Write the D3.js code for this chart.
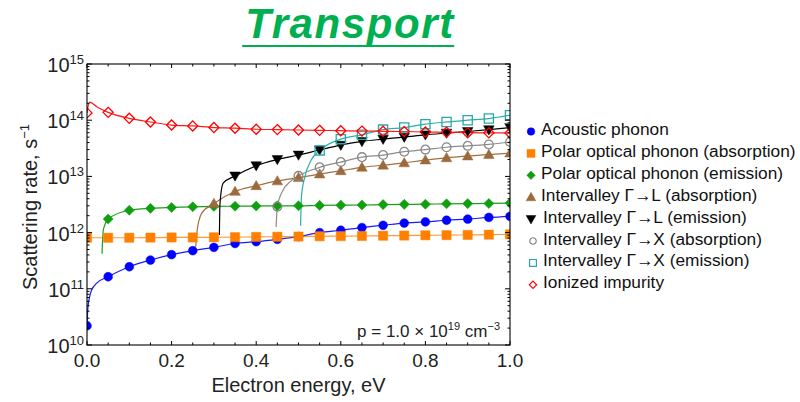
<!DOCTYPE html>
<html>
<head>
<meta charset="utf-8">
<script src="https://cdn.jsdelivr.net/npm/d3@7"></script>
<style>
  body { margin: 0; background: #fff; }
  svg { display: block; }
  text { font-family: "Liberation Sans", Arial, sans-serif; }
</style>
</head>
<body>
<svg id="chart" width="800" height="402"></svg>
<script>
// Electron energies (eV) at which the scattering rates are sampled
const energies = [0, 0.05, 0.1, 0.15, 0.2, 0.25, 0.3, 0.35, 0.4, 0.45, 0.5,
                  0.55, 0.6, 0.65, 0.7, 0.75, 0.8, 0.85, 0.9, 0.95, 1.0];

// Scattering rates, s^-1 (null = below the process threshold)
const acoustic = [2.2e10, 1.64e11, 2.47e11, 3.25e11, 4.05e11, 4.76e11, 5.47e11, 6.4e11, 6.9e11, 7.6e11, 8.5e11,
                  1.0e12, 1.1e12, 1.23e12, 1.35e12, 1.48e12, 1.55e12, 1.66e12, 1.74e12, 1.86e12, 1.95e12];
const polarAbs = [8.1e11, 8.1e11, 8.1e11, 8.15e11, 8.2e11, 8.2e11, 8.25e11, 8.3e11, 8.4e11, 8.45e11, 8.5e11,
                  8.6e11, 8.65e11, 8.7e11, 8.8e11, 8.85e11, 8.95e11, 9.0e11, 9.1e11, 9.2e11, 9.3e11];
const polarEm = [null, 1.74e12, 2.5e12, 2.7e12, 2.8e12, 2.88e12, 2.93e12, 2.95e12, 2.97e12, 2.99e12, 3.0e12,
                 3.05e12, 3.08e12, 3.1e12, 3.15e12, 3.18e12, 3.2e12, 3.25e12, 3.28e12, 3.3e12, 3.35e12];
const gammaLAbs = [null, null, null, null, null, null, 3.3e12, 5.4e12, 6.8e12, 8.3e12, 9.5e12,
                   1.1e13, 1.26e13, 1.45e13, 1.58e13, 1.74e13, 1.95e13, 2.14e13, 2.3e13, 2.45e13, 2.6e13];
const gammaLEm = [null, null, null, null, null, null, null, 1.02e13, 1.55e13, 2.0e13, 2.4e13,
                  2.95e13, 3.6e13, 4.2e13, 4.6e13, 5.0e13, 5.5e13, 5.9e13, 6.3e13, 6.8e13, 7.4e13];
const gammaXAbs = [null, null, null, null, null, null, null, null, null, 2.9e12, 1.02e13,
                   1.45e13, 1.8e13, 2.2e13, 2.4e13, 2.75e13, 3.0e13, 3.3e13, 3.5e13, 3.7e13, 4.1e13];
const gammaXEm = [null, null, null, null, null, null, null, null, null, null, null,
                  2.9e13, 4.6e13, 5.5e13, 6.8e13, 7.4e13, 8.5e13, 9.3e13, 1.0e14, 1.07e14, 1.23e14];
const impurity = [1.35e14, 1.38e14, 1.08e14, 9.3e13, 8.2e13, 7.9e13, 7.4e13, 7.2e13, 6.9e13, 6.8e13, 6.7e13,
                  6.6e13, 6.5e13, 6.4e13, 6.35e13, 6.3e13, 6.15e13, 6.1e13, 6.0e13, 5.95e13, 5.9e13];

// Extra points of the continuous curves between samples (onsets and peaks), [energy, rate]
const acousticOnset  = [[0.0024, 4.8e10], [0.011, 9.5e10], [0.023, 1.26e11]];
const polarEmOnset   = [[0.0355, 4.2e11], [0.0385, 1.1e12], [0.043, 1.42e12]];
const gammaLAbsOnset = [[0.257, 5.6e11], [0.2606, 1.12e12], [0.271, 2.2e12]];
const gammaLEmOnset  = [[0.313, 9.1e11], [0.3144, 3.3e12], [0.322, 7.6e12]];
const gammaXAbsOnset = [[0.447, 1.26e12], [0.464, 5.8e12], [0.48, 8.0e12]];
const gammaXEmOnset  = [[0.505, 1.32e12], [0.507, 4.4e12], [0.515, 9.8e12], [0.53, 1.95e13]];
const impurityPeak   = [[0.006, 2.1e14], [0.025, 1.7e14]];

const seriesLabels = [
  "Acoustic phonon",
  "Polar optical phonon (absorption)",
  "Polar optical phonon (emission)",
  "Intervalley \u0393\u2192L (absorption)",
  "Intervalley \u0393\u2192L (emission)",
  "Intervalley \u0393\u2192X (absorption)",
  "Intervalley \u0393\u2192X (emission)",
  "Ionized impurity"
];

const xTickValues = [0, 0.2, 0.4, 0.6, 0.8, 1.0];
const xTickLabels = ["0.0", "0.2", "0.4", "0.6", "0.8", "1.0"];
const yDecades = [10, 11, 12, 13, 14, 15];

const titleText = "Transport";
const xTitle = "Electron energy, eV";
const yTitle = "Scattering rate, s";

// ---- styling for each series ----
const series = [
  { label: seriesLabels[0], values: acoustic,  extra: acousticOnset,  color: "#0000ff", line: "#1a1aff", shape: "circle",  filled: true },
  { label: seriesLabels[1], values: polarAbs,  extra: [],             color: "#ff8000", line: "#ff9a3a", shape: "square",  filled: true },
  { label: seriesLabels[2], values: polarEm,   extra: polarEmOnset,   color: "#0f9f0f", line: "#1a9f1a", shape: "diamond", filled: true },
  { label: seriesLabels[3], values: gammaLAbs, extra: gammaLAbsOnset, color: "#9c6a3c", line: "#a0703f", shape: "triUp",   filled: true },
  { label: seriesLabels[4], values: gammaLEm,  extra: gammaLEmOnset,  color: "#000000", line: "#000000", shape: "triDown", filled: true },
  { label: seriesLabels[5], values: gammaXAbs, extra: gammaXAbsOnset, color: "#888888", line: "#8c8c8c", shape: "circle",  filled: false },
  { label: seriesLabels[6], values: gammaXEm,  extra: gammaXEmOnset,  color: "#2aa8a8", line: "#2aaeae", shape: "square",  filled: false },
  { label: seriesLabels[7], values: impurity,  extra: impurityPeak,   color: "#ff0000", line: "#ff1a1a", shape: "diamond", filled: false }
];

const svg = d3.select("#chart");
const plot = { left: 87, right: 510, top: 64, bottom: 345 };

const x = d3.scaleLinear().domain([0, 1]).range([plot.left, plot.right]);
const y = d3.scaleLog().domain([1e10, 1e15]).range([plot.bottom, plot.top]);

// marker outlines, centred on the origin
function markerPath(shape, s) {
  switch (shape) {
    case "circle":
      return `M${s},0A${s},${s} 0 1,1 ${-s},0A${s},${s} 0 1,1 ${s},0Z`;
    case "square":
      return `M${-s},${-s}H${s}V${s}H${-s}Z`;
    case "diamond":
      return `M0,${-s * 1.12}L${s * 1.12},0L0,${s * 1.12}L${-s * 1.12},0Z`;
    case "triUp":
      return `M0,${-s * 1.15}L${s * 1.15},${s * 0.85}L${-s * 1.15},${s * 0.85}Z`;
    case "triDown":
      return `M0,${s * 1.15}L${s * 1.15},${-s * 0.85}L${-s * 1.15},${-s * 0.85}Z`;
  }
}
const markerSize = { circle: 4.4, square: 4.6, diamond: 4.5, triUp: 4.6, triDown: 4.6 };

// ---- title ----
const title = svg.append("text")
  .attr("x", 350).attr("y", 38)
  .attr("text-anchor", "middle")
  .attr("font-size", 42).attr("font-weight", "bold").attr("font-style", "italic")
  .attr("letter-spacing", 1.6)
  .attr("fill", "#00b050")
  .text(titleText);
const tb = title.node().getBBox();
svg.append("line")
  .attr("x1", tb.x - 3).attr("x2", tb.x + tb.width - 1)
  .attr("y1", 46).attr("y2", 46)
  .attr("stroke", "#00b050").attr("stroke-width", 2.2);

// ---- plot contents (clipped to the frame) ----
svg.append("clipPath").attr("id", "plotClip")
  .append("rect")
  .attr("x", plot.left).attr("y", plot.top)
  .attr("width", plot.right - plot.left).attr("height", plot.bottom - plot.top);

const content = svg.append("g").attr("clip-path", "url(#plotClip)");

const lineGen = d3.line()
  .x(d => x(d[0])).y(d => y(d[1]))
  .curve(d3.curveMonotoneX);

series.forEach(s => {
  const pts = energies.map((e, i) => [e, s.values[i]]).filter(d => d[1] != null)
    .concat(s.extra)
    .sort((a, b) => a[0] - b[0]);
  content.append("path")
    .attr("d", lineGen(pts))
    .attr("fill", "none")
    .attr("stroke", s.line)
    .attr("stroke-width", 1.2);
});

series.forEach(s => {
  const pts = energies.map((e, i) => [e, s.values[i]]).filter(d => d[1] != null);
  content.selectAll(null).data(pts).enter().append("path")
    .attr("transform", d => `translate(${x(d[0])},${y(d[1])})`)
    .attr("d", markerPath(s.shape, markerSize[s.shape]))
    .attr("fill", s.filled ? s.color : "#fff")
    .attr("fill-opacity", s.filled ? 1 : 0)
    .attr("stroke", s.color)
    .attr("stroke-width", s.filled ? 0.5 : 1.3);
});

// ---- frame and ticks ----
const axes = svg.append("g").attr("stroke", "#000").attr("fill", "none");
axes.append("rect")
  .attr("x", plot.left).attr("y", plot.top)
  .attr("width", plot.right - plot.left).attr("height", plot.bottom - plot.top)
  .attr("stroke-width", 1.1);

d3.range(0, 1.0001, 0.05).forEach((v, i) => {
  const len = (i % 4 === 0) ? 4 : 2.5;
  const px = x(v);
  axes.append("line").attr("x1", px).attr("x2", px).attr("y1", plot.bottom).attr("y2", plot.bottom - len);
  axes.append("line").attr("x1", px).attr("x2", px).attr("y1", plot.top).attr("y2", plot.top + len);
});

yDecades.forEach(d => {
  const py = y(Math.pow(10, d));
  axes.append("line").attr("x1", plot.left).attr("x2", plot.left + 5).attr("y1", py).attr("y2", py);
  axes.append("line").attr("x1", plot.right).attr("x2", plot.right - 5).attr("y1", py).attr("y2", py);
  if (d < 15) {
    for (let k = 2; k <= 9; k++) {
      const pm = y(k * Math.pow(10, d));
      axes.append("line").attr("x1", plot.left).attr("x2", plot.left + 2.5).attr("y1", pm).attr("y2", pm);
      axes.append("line").attr("x1", plot.right).attr("x2", plot.right - 2.5).attr("y1", pm).attr("y2", pm);
    }
  }
});

// ---- tick labels ----
xTickValues.forEach((v, i) => {
  svg.append("text")
    .attr("x", x(v)).attr("y", 367)
    .attr("text-anchor", "middle")
    .attr("font-size", 19)
    .attr("fill", "#222")
    .text(xTickLabels[i]);
});

yDecades.forEach(d => {
  const t = svg.append("text")
    .attr("x", 84).attr("y", y(Math.pow(10, d)) + 8)
    .attr("text-anchor", "end")
    .attr("fill", "#222")
    .attr("font-size", 20);
  t.append("tspan").text("10");
  t.append("tspan").attr("dy", -8).attr("font-size", 13).text(String(d));
});

// ---- axis titles ----
svg.append("text")
  .attr("x", x(0.5)).attr("y", 392)
  .attr("text-anchor", "middle")
  .attr("font-size", 20).attr("fill", "#222")
  .text(xTitle);

const yt = svg.append("text")
  .attr("transform", "translate(37,207) rotate(-90)")
  .attr("text-anchor", "middle")
  .attr("font-size", 20).attr("fill", "#222");
yt.append("tspan").text(yTitle);
yt.append("tspan").attr("dy", -8).attr("font-size", 13).text("\u22121");

// ---- doping annotation ----
const ann = svg.append("text")
  .attr("x", 500).attr("y", 337)
  .attr("text-anchor", "end")
  .attr("font-size", 17).attr("fill", "#222");
ann.append("tspan").text("p = 1.0 \u00d7 10");
ann.append("tspan").attr("dy", -7).attr("font-size", 11).text("19");
ann.append("tspan").attr("dy", 7).text(" cm");
ann.append("tspan").attr("dy", -7).attr("font-size", 11).text("\u22123");

// ---- legend ----
const legendRows = [
  { mx: 531, tx: 541 }, { mx: 531, tx: 541 }, { mx: 531, tx: 541 }, { mx: 531, tx: 541 },
  { mx: 531, tx: 543 }, { mx: 533, tx: 543 }, { mx: 533, tx: 543 }, { mx: 533, tx: 543 }
];
const legendSize = { circle: 3.8, square: 4.0, diamond: 3.8, triUp: 4.2, triDown: 4.2 };
series.forEach((s, i) => {
  const base = 135 + i * 21.9;
  const r = legendRows[i];
  const open = !s.filled;
  svg.append("path")
    .attr("transform", `translate(${r.mx},${base - 3.5})`)
    .attr("d", markerPath(s.shape, open ? legendSize[s.shape] * 0.85 : legendSize[s.shape]))
    .attr("fill", s.filled ? s.color : "none")
    .attr("stroke", s.color)
    .attr("stroke-width", s.filled ? 0.5 : 1.2);
  svg.append("text")
    .attr("x", r.tx).attr("y", base)
    .attr("font-size", 17.3).attr("fill", "#111")
    .text(s.label);
});
</script>
</body>
</html>
